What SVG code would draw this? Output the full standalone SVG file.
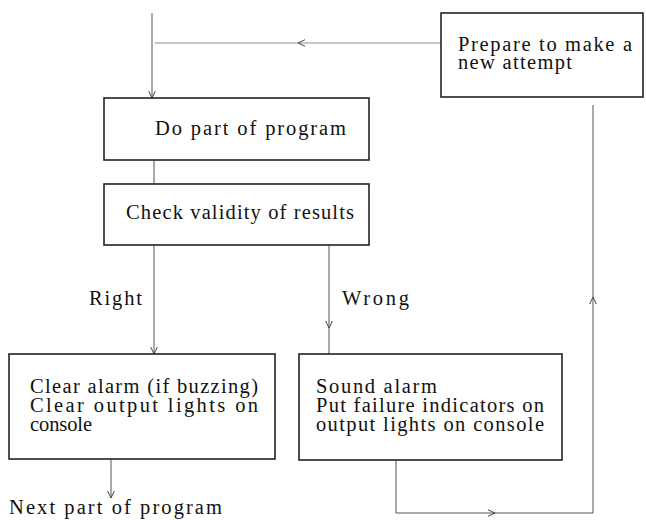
<svg xmlns="http://www.w3.org/2000/svg" width="646" height="520" viewBox="0 0 646 520">
<style>
.box{fill:#fff;stroke:#222;stroke-width:1.6}
.t{font-family:"Liberation Serif","Times New Roman",serif;font-size:20.5px;fill:#111}
.c{fill:none;stroke:#555;stroke-width:1}
.cl{fill:none;stroke:#8a8a8a;stroke-width:1}
</style>
<defs>
<marker id="ah" markerUnits="userSpaceOnUse" viewBox="-9 -5 10 10" refX="0" refY="0" markerWidth="10" markerHeight="10" orient="auto" overflow="visible">
<path d="M -7 -3.3 L 0 0 L -7 3.3" fill="none" stroke="#444" stroke-width="1"/>
</marker>
</defs>
<rect width="646" height="520" fill="#fff"/>
<g id="connectors">
<path class="c" d="M 152 13 L 152 98" marker-end="url(#ah)"/>
<path class="cl" d="M 441 43 L 298 43" marker-end="url(#ah)"/>
<path class="cl" d="M 298 43 L 155 43"/>
<path class="c" d="M 154 160 L 154 184"/>
<path class="c" d="M 154 245 L 154 354" marker-end="url(#ah)"/>
<path class="c" d="M 329 245 L 329 328" marker-end="url(#ah)"/>
<path class="c" d="M 329 328 L 329 354"/>
<path class="c" d="M 111 459 L 111 498" marker-end="url(#ah)"/>
<path class="c" d="M 396 460 L 396 513 L 495 513" marker-end="url(#ah)"/>
<path class="c" d="M 495 513 L 593 513 L 593 297" marker-end="url(#ah)"/>
<path class="c" d="M 593 297 L 593 105"/>
</g>
<g id="prepare">
<rect class="box" x="441" y="13" width="202" height="84"/>
<text class="t" x="458" y="51" textLength="174" lengthAdjust="spacing">Prepare to make a</text>
<text class="t" x="458" y="69" textLength="114" lengthAdjust="spacing">new attempt</text>
</g>
<g id="do-part">
<rect class="box" x="104" y="98" width="265" height="62"/>
<text class="t" x="155" y="135" textLength="191" lengthAdjust="spacing">Do part of program</text>
</g>
<g id="check">
<rect class="box" x="104" y="184" width="265" height="61"/>
<text class="t" x="126" y="219" textLength="228" lengthAdjust="spacing">Check validity of results</text>
</g>
<g id="label-right">
<text class="t" x="89" y="305" textLength="53" lengthAdjust="spacing">Right</text>
</g>
<g id="label-wrong">
<text class="t" x="342" y="305" textLength="67" lengthAdjust="spacing">Wrong</text>
</g>
<g id="clear">
<rect class="box" x="9" y="354" width="266" height="105"/>
<text class="t" x="30" y="393" textLength="228" lengthAdjust="spacing">Clear alarm (if buzzing)</text>
<text class="t" x="30" y="412" textLength="228" lengthAdjust="spacing">Clear output lights on</text>
<text class="t" x="30" y="431" textLength="62" lengthAdjust="spacing">console</text>
</g>
<g id="sound">
<rect class="box" x="299" y="354" width="263" height="106"/>
<text class="t" x="316" y="393" textLength="121" lengthAdjust="spacing">Sound alarm</text>
<text class="t" x="316" y="412" textLength="228" lengthAdjust="spacing">Put failure indicators on</text>
<text class="t" x="316" y="431" textLength="228" lengthAdjust="spacing">output lights on console</text>
</g>
<g id="next">
<text class="t" x="9" y="514" textLength="213" lengthAdjust="spacing">Next part of program</text>
</g>
</svg>
